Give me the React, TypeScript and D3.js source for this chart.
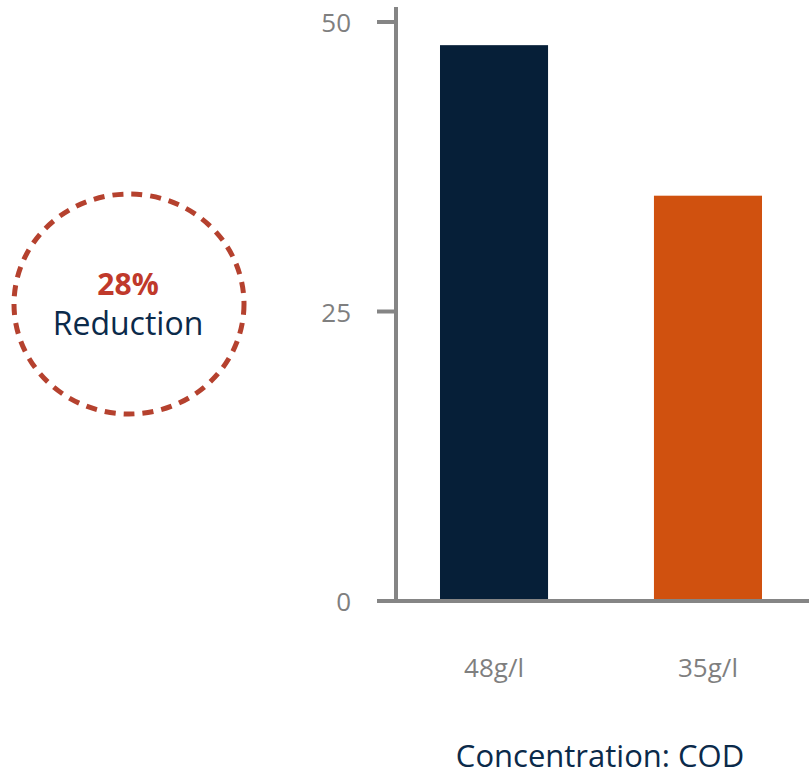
import React from "react";
import * as d3 from "d3";

const categories = ["48g/l", "35g/l"];
const values = [48, 35];
const barColors = ["#061f38", "#d0510f"];
const yTicks = [0, 25, 50];
const xTitle = "Concentration: COD";
const badgeValue = "28%";
const badgeLabel = "Reduction";

export default function App() {
  const W = 809, H = 778;
  const y = d3.scaleLinear().domain([0, 50]).range([601, 22]);
  const x = d3.scaleBand<string>().domain(categories).range([387, 815]).paddingInner(0.495).paddingOuter(0.2477);
  const font = "'Open Sans', 'Liberation Sans', sans-serif";
  const axisColor = "#858585";
  return (
    <svg width={W} height={H} style={{ position: "absolute", left: 0, top: 0 }} fontFamily={font}>
      {categories.map((c, i) => (
        <rect key={c} x={x(c)} y={y(values[i])} width={x.bandwidth()} height={y(0) - y(values[i])} fill={barColors[i]} />
      ))}
      <line x1={396} x2={396} y1={7} y2={603} stroke={axisColor} strokeWidth={4} />
      <line x1={377} x2={809} y1={y(0)} y2={y(0)} stroke={axisColor} strokeWidth={4} />
      {yTicks.map((t) => (
        <g key={t}>
          <line x1={377} x2={396} y1={y(t)} y2={y(t)} stroke={axisColor} strokeWidth={4} />
          <text x={351} y={y(t) + 10} textAnchor="end" fontSize={26} fill="#7f7f7f">{t}</text>
        </g>
      ))}
      {categories.map((c) => (
        <text key={c} x={(x(c) ?? 0) + x.bandwidth() / 2} y={677} textAnchor="middle" fontSize={26} fill="#7f7f7f">{c}</text>
      ))}
      <text x={600} y={767} textAnchor="middle" fontSize={31} fill="#0b2a4a">{xTitle}</text>
      <ellipse cx={129} cy={304} rx={115} ry={110} fill="none" stroke="#b5412e" strokeWidth={5} strokeDasharray="11 8" />
      <text x={128} y={295} textAnchor="middle" fontSize={30} fontWeight="bold" fill="#c0392b">{badgeValue}</text>
      <text x={128} y={335} textAnchor="middle" fontSize={32} fill="#0b2a4a">{badgeLabel}</text>
    </svg>
  );
}
